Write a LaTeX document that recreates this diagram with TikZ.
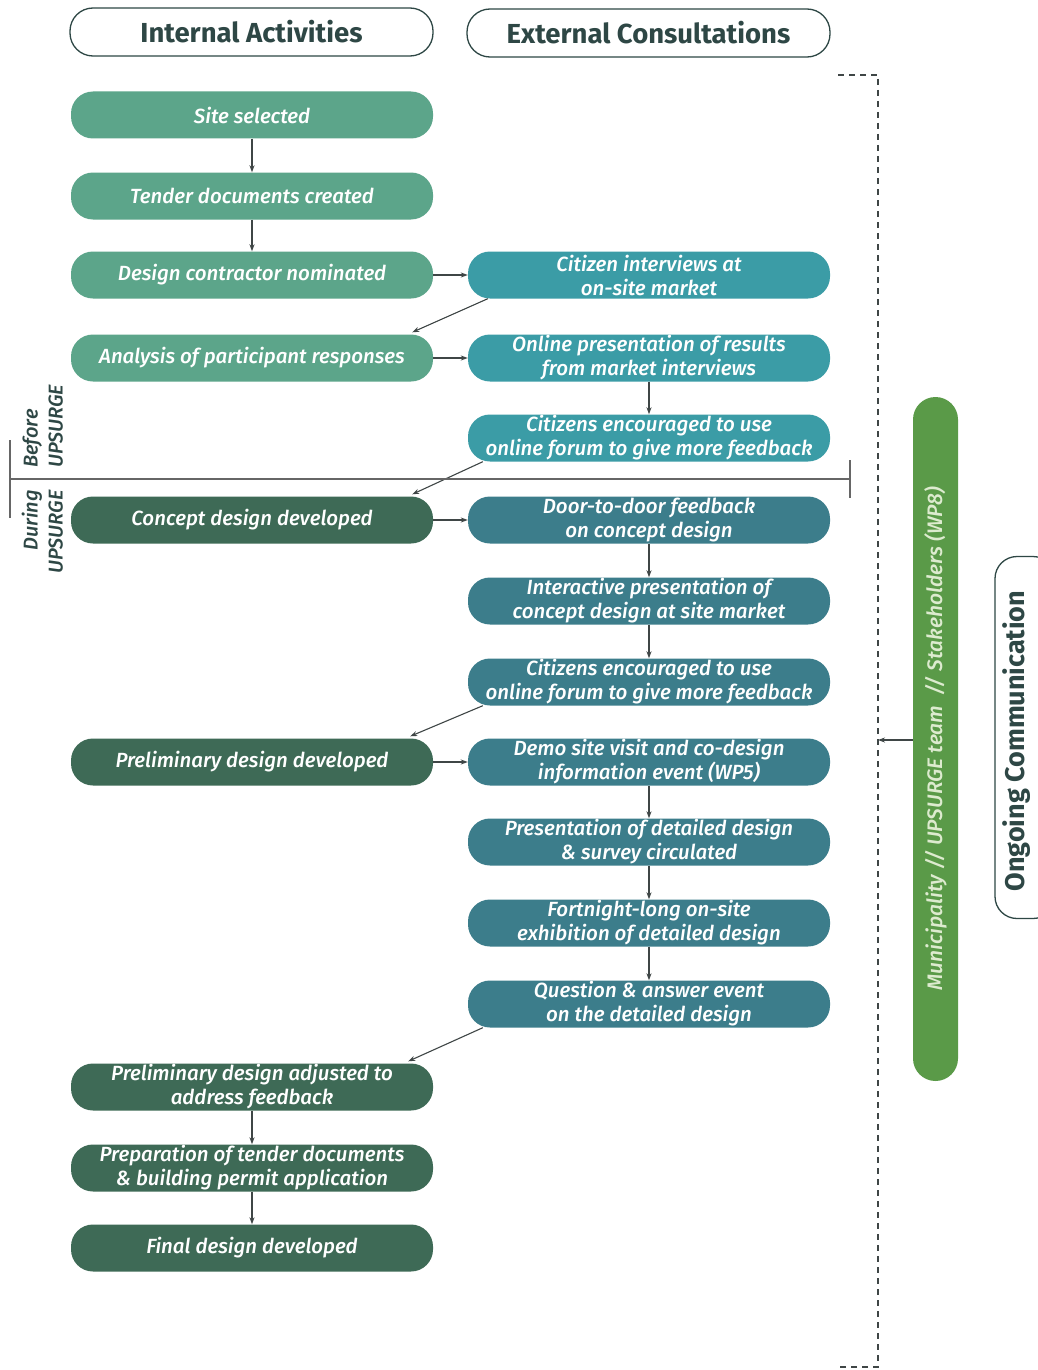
\documentclass[tikz,border=0pt]{standalone}
\usepackage{fontspec}
\setmainfont{Fira Sans}[UprightFont={* Medium}, ItalicFont={* Medium Italic}, BoldFont={* Bold}, BoldItalicFont={* Bold Italic}]
\usetikzlibrary{calc,arrows.meta}
\definecolor{lgreen}{HTML}{5CA58A}
\definecolor{lteal}{HTML}{3B9CA6}
\definecolor{dgreen}{HTML}{3E6A56}
\definecolor{dteal}{HTML}{3C7D8B}
\definecolor{bargreen}{HTML}{5A9A48}
\definecolor{bartext}{HTML}{DDEBCF}
\definecolor{ink}{HTML}{2E4745}
\definecolor{arrowc}{HTML}{3F4646}
\begin{document}
\begin{tikzpicture}[x=1pt,y=-1pt,
  box/.style={rectangle, rounded corners=22pt, minimum width=362pt, minimum height=47pt,
    inner sep=0pt, align=center, text=white, font=\fontsize{20.5}{24}\selectfont\itshape},
  lbox/.style={box, fill=lgreen},
  tbox/.style={box, fill=lteal},
  gbox/.style={box, fill=dgreen},
  dbox/.style={box, fill=dteal},
  header/.style={rectangle, rounded corners=23pt, minimum width=363pt, minimum height=48pt,
    draw=ink, line width=1.3pt, text=ink, font=\fontsize{27.5}{31}\selectfont\bfseries},
  arr/.style={draw=arrowc, line width=1.1pt, -{Stealth[length=7pt,width=5pt]}},
  phase/.style={rotate=90, text=ink, font=\fontsize{20}{25}\selectfont\itshape, inner sep=0pt},
]
\useasboundingbox (0,0) rectangle (1037,1370);
\fill[white] (0,0) rectangle (1037,1370);

% headers
\node[header] (hint) at (251.5,32) {Internal Activities};
\node[header] (hext) at (648.5,33) {External Consultations};

% left column
\node[lbox] (site) at (252,115) {Site selected};
\node[lbox] (tend) at (252,196) {Tender documents created};
\node[lbox] (cont) at (252,275) {Design contractor nominated};
\node[lbox] (anal) at (252,358) {Analysis of participant responses};
\node[gbox] (conc) at (252,520) {Concept design developed};
\node[gbox] (prel) at (252,762) {Preliminary design developed};
\node[gbox] (adj)  at (252,1087) {Preliminary design adjusted to\\address feedback};
\node[gbox] (prep) at (252,1168) {Preparation of tender documents\\\& building permit application};
\node[gbox] (fin)  at (252,1248) {Final design developed};

% right column
\node[tbox] (cit)  at (649,275) {Citizen interviews at\\on-site market};
\node[tbox] (onl)  at (649,358) {Online presentation of results\\from market interviews};
\node[tbox] (enc1) at (649,438) {Citizens encouraged to use\\online forum to give more feedback};
\node[dbox] (door) at (649,520) {Door-to-door feedback\\on concept design};
\node[dbox] (inter) at (649,601) {Interactive presentation of\\concept design at site market};
\node[dbox] (enc2) at (649,682) {Citizens encouraged to use\\online forum to give more feedback};
\node[dbox] (demo) at (649,762) {Demo site visit and co-design\\information event (WP5)};
\node[dbox] (pres) at (649,842) {Presentation of detailed design\\\& survey circulated};
\node[dbox] (fort) at (649,923) {Fortnight-long on-site\\exhibition of detailed design};
\node[dbox] (qa)   at (649,1004) {Question \& answer event\\on the detailed design};

% vertical arrows
\draw[arr] (site) -- (tend);
\draw[arr] (tend) -- (cont);
\draw[arr] (adj) -- (prep);
\draw[arr] (prep) -- (fin);
\draw[arr] (onl) -- (enc1);
\draw[arr] (door) -- (inter);
\draw[arr] (inter) -- (enc2);
\draw[arr] (demo) -- (pres);
\draw[arr] (pres) -- (fort);
\draw[arr] (fort) -- (qa);

% horizontal arrows
\draw[arr] (cont.east) -- (cit.west);
\draw[arr] (anal.east) -- (onl.west);
\draw[arr] (conc.east) -- (door.west);
\draw[arr] (prel.east) -- (demo.west);

% diagonal arrows
\draw[arr] ($(cit.south west)+(20,0)$) -- ($(anal.north east)+(-21,-2)$);
\draw[arr] ($(enc1.south west)+(15,0)$) -- ($(conc.north east)+(-21,-2)$);
\draw[arr] ($(enc2.south west)+(15,0)$) -- ($(prel.north east)+(-23,-2)$);
\draw[arr] ($(qa.south west)+(15,0)$) -- ($(adj.north east)+(-25,-2)$);

% phase divider
\draw[draw=gray!80!black, line width=1.3pt] (10,479) -- (850,479);
\draw[draw=gray!80!black, line width=1.3pt] (10,440) -- (10,518);
\draw[draw=gray!80!black, line width=1.3pt] (850,460) -- (850,498);
\node[phase, anchor=south west, align=left] (before) at (63,468) {Before\\UPSURGE};
\node[phase, anchor=south east, align=right] (during) at (63,490) {During\\UPSURGE};

% dashed bracket
\coordinate (btop) at (838,75);
\coordinate (bbot) at (838,1367);
\draw[draw=arrowc, line width=1.5pt, dash pattern=on 6pt off 5pt] (btop) -- (878,75) -- (878,1367) -- (bbot);
\coordinate (barrow) at (878,740);

% green bar
\node[rectangle, rounded corners=22.5pt, fill=bargreen, minimum width=45pt, minimum height=684pt, inner sep=0pt] (bar) at (935.5,739) {};
\node[rotate=90, text=bartext, font=\fontsize{21}{24}\selectfont\itshape] (bartxt) at (bar.center) {Municipality // UPSURGE team\ \ // Stakeholders (WP8)};
\draw[arr] (bar.west |- barrow) -- (barrow);

% ongoing communication
\node[rectangle, rounded corners=22pt, draw=ink, line width=1.3pt, minimum width=60pt, minimum height=362pt, inner sep=0pt] (ongo) at (1025,737.5) {};
\node[rotate=90, text=ink, font=\fontsize{27}{30}\selectfont\bfseries] (ongotxt) at (1017,741) {Ongoing Communication};
\end{tikzpicture}
\end{document}
